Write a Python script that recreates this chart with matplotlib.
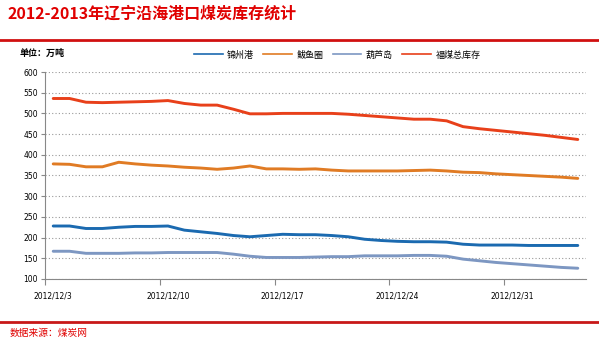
import matplotlib.pyplot as plt
from matplotlib.lines import Line2D

plt.rcParams['font.family'] = ['Noto Sans CJK SC', 'DejaVu Sans']

# daily stock, 2012/12/3 .. 2013/1/4 (10k tonnes)
dates = ["2012/12/3", "2012/12/10", "2012/12/17", "2012/12/24", "2012/12/31"]
jinzhou = [228, 228, 222, 222, 225, 227, 227, 228, 218, 214, 210, 205, 202, 205,
           208, 207, 207, 205, 202, 196, 193, 191, 190, 190, 189, 184, 182, 182,
           182, 181, 181, 181, 181]
bayuquan = [378, 377, 371, 371, 382, 378, 375, 373, 370, 368, 365, 368, 373, 366,
            366, 365, 366, 363, 361, 361, 361, 361, 362, 363, 361, 358, 357, 354,
            352, 350, 348, 346, 343]
huludao = [167, 167, 162, 162, 162, 163, 163, 164, 164, 164, 164, 160, 155, 152,
           152, 152, 153, 154, 154, 156, 156, 156, 157, 157, 155, 148, 144, 140,
           137, 134, 131, 128, 126]
total = [536, 536, 527, 526, 527, 528, 529, 531, 524, 520, 520, 510, 499, 499,
         500, 500, 500, 500, 498, 495, 492, 489, 486, 486, 482, 468, 463, 459,
         455, 451, 447, 442, 437]
names = ["锦州港", "鲅鱼圈", "葫芦岛", "福煤总库存"]
colors = ["#1B6AB0", "#E07B24", "#7D97C2", "#E8401A"]

fig = plt.figure(figsize=(5.99, 3.48), dpi=100)
ax = fig.add_axes([45 / 599, 1 - 279 / 348, 541 / 599, 207 / 348])

x = list(range(len(total)))
for ys, c in zip([jinzhou, bayuquan, huludao, total], colors):
    ax.plot(x, ys, color=c, lw=2.1, solid_joinstyle='round', solid_capstyle='round')

ax.set_xlim(-0.5, len(total) - 0.5)
ax.set_ylim(100, 600)
ax.set_yticks(range(100, 601, 50))
ax.yaxis.grid(True, linestyle=(0, (1, 2)), color='#999999', lw=0.8)
ax.set_axisbelow(True)

ax.set_xticks(range(0, len(total), 7))
ax.set_xticklabels(dates)
ax.set_xticks([i - 0.5 for i in range(0, len(total), 7)], minor=True)
ax.tick_params(axis='x', which='major', length=0, pad=9, labelsize=5.5)
ax.tick_params(axis='x', which='minor', length=4, color='#888888', width=0.8)
ax.tick_params(axis='y', length=3, color='#888888', width=0.8, labelsize=5.5, pad=2)
for lab in ax.get_xticklabels() + ax.get_yticklabels():
    lab.set_fontfamily('DejaVu Sans')

for s in ['top', 'right']:
    ax.spines[s].set_visible(False)
for s in ['left', 'bottom']:
    ax.spines[s].set_color('#888888')
    ax.spines[s].set_linewidth(0.8)

# header and footer
fig.text(8 / 599, 1 - 14 / 348, "2012-2013年辽宁沿海港口煤炭库存统计", color='#E00000',
         fontsize=11.5, fontweight='bold', va='center', ha='left')
fig.add_artist(Line2D([0, 1], [1 - 40 / 348] * 2, color='#D01010', lw=2))
fig.text(20 / 599, 1 - 53 / 348, "单位：万吨", fontsize=6.5, fontweight='bold',
         va='center', ha='left')
fig.add_artist(Line2D([0, 1], [1 - 322 / 348] * 2, color='#C81818', lw=2))
fig.text(10 / 599, 1 - 333 / 348, "数据来源：煤炭网", color='#E00000', fontsize=7,
         va='center', ha='left')

handles = [Line2D([], [], color=c, lw=1.2) for c in colors]
fig.legend(handles, names, loc='center', bbox_to_anchor=(337 / 599, 1 - 55 / 348),
           ncol=4, frameon=False, fontsize=6.5, handlelength=3.2, handletextpad=0.5,
           columnspacing=1.0)

fig.savefig("out.png", dpi=100)
